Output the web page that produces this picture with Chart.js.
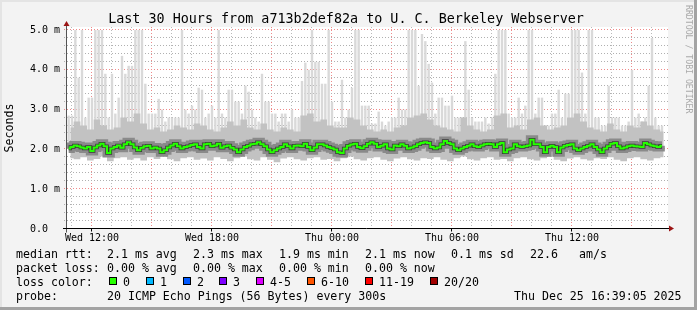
<!DOCTYPE html>
<html>
<head>
<meta charset="utf-8">
<title>SmokePing - Last 30 Hours</title>
<script src="https://cdn.jsdelivr.net/npm/chart.js@4"></script>
<style>
  html, body { margin: 0; padding: 0; background: #f3f3f3; }
  canvas { display: block; }
</style>
</head>
<body>
<canvas id="graph" width="697" height="310"></canvas>
<script>
/* ============================================================
   SMOKEPING GRAPH — last 30 hours, median rtt + smoke
   ============================================================ */

const W = 697, H = 310;
const MONO = '"DejaVu Sans Mono", monospace';

// time axis in hours counted from Wed 00:00
const START_HOUR = 10.75;
const END_HOUR = 40.8;
const STEP_FINE = 1 / 6;    // 10 min bins
const STEP_COARSE = 1 / 3;  // 20 min bins

const tickHours = [12, 18, 24, 30, 36];
const tickLabels = ['Wed 12:00', 'Wed 18:00', 'Thu 00:00', 'Thu 06:00', 'Thu 12:00'];
const yTicks = [0, 1, 2, 3, 4, 5];
const yTickLabels = ['0.0  ', '1.0 m', '2.0 m', '3.0 m', '4.0 m', '5.0 m'];

// median rtt (ms), one value per 10 min
const medianRtt = [
  2.02, 2.06, 2.10, 2.08, 2.05, 2.02, 2.06, 1.96, 2.05, 2.10,
  2.14, 2.08, 1.91, 2.02, 2.06, 2.10, 2.04, 2.13, 2.18, 2.13,
  2.05, 1.98, 2.04, 2.08, 2.09, 2.02, 2.05, 2.02, 1.93, 1.98,
  2.05, 2.10, 2.14, 2.08, 2.02, 2.06, 2.08, 2.11, 2.13, 2.06,
  2.02, 2.13, 2.14, 2.08, 2.10, 2.14, 2.04, 2.08, 2.10, 2.04,
  2.00, 1.93, 2.00, 2.06, 2.09, 2.13, 2.14, 2.18, 2.13, 2.08,
  2.00, 1.93, 1.98, 2.02, 2.06, 2.13, 2.08, 2.02, 2.09, 2.10,
  2.08, 2.14, 2.06, 1.98, 2.05, 2.13, 2.13, 2.10, 2.06, 2.03,
  2.00, 1.93, 1.91, 2.02, 2.09, 2.12, 2.14, 2.06, 2.03, 2.08,
  2.14, 2.18, 2.14, 2.06, 2.09, 2.13, 2.02, 2.00, 2.10, 2.08,
  2.13, 2.09, 2.02, 2.05, 2.08, 2.13, 2.16, 2.18, 2.16, 2.06,
  2.02, 2.05, 2.13, 2.21, 2.16, 2.13, 2.02, 1.98, 2.02, 2.06,
  2.09, 2.13, 2.08, 2.06, 2.10, 2.13, 2.14, 2.13, 2.06, 2.13,
  2.16, 1.93, 2.00, 2.02, 2.13, 2.08, 2.06, 2.08, 2.10, 2.24,
  2.13, 2.13, 2.06, 1.93, 2.06, 2.09, 2.06, 1.93, 2.05, 2.09,
  2.11, 2.13, 2.02, 1.98, 2.02, 2.06, 2.09, 2.13, 2.06, 2.00,
  1.93, 2.02, 2.08, 2.14, 2.16, 2.08, 2.02, 2.05, 2.08, 2.10,
  2.08, 2.07, 2.06, 2.16, 2.13, 2.10, 2.08, 2.06, 2.09
];

// slowest ping per 10 min (light smoke top), values above 5 are clipped
const pingMax = [
  2.85, 2.85, 5.5, 3.8, 5.5, 2.8, 3.3, 3.3, 5.5, 5.5,
  5.5, 3.9, 2.8, 3.9, 2.9, 3.3, 4.35, 3.9, 4.1, 4.1,
  5.5, 5.5, 5.5, 3.65, 2.9, 2.9, 2.9, 3.27, 3.0, 2.7,
  2.8, 2.8, 2.8, 2.8, 5.5, 3.0, 2.9, 3.1, 3.0, 3.55,
  3.5, 2.8, 2.9, 3.1, 2.8, 5.5, 2.9, 2.8, 3.5, 3.5,
  3.2, 3.2, 2.9, 3.6, 3.45, 3.0, 2.8, 2.7, 3.9, 3.2,
  3.2, 2.9, 2.9, 2.7, 2.9, 2.9, 2.7, 3.0, 2.8, 2.8,
  3.72, 4.18, 4.0, 5.5, 4.2, 4.2, 3.65, 3.65, 5.5, 3.2,
  2.7, 2.7, 3.75, 2.8, 3.0, 3.55, 5.5, 5.5, 3.1, 3.1,
  3.1, 2.65, 2.65, 2.95, 2.7, 2.6, 2.7, 2.8, 2.8, 3.3,
  3.0, 3.0, 5.5, 5.5, 5.5, 3.6, 4.9, 4.72, 4.15, 3.68,
  2.9, 3.3, 3.3, 3.1, 3.1, 3.35, 2.8, 2.8, 2.8, 4.72,
  3.5, 2.8, 2.7, 2.7, 2.7, 2.8, 2.65, 2.8, 3.9, 5.5,
  5.5, 5.5, 2.9, 2.8, 2.8, 3.3, 2.9, 3.1, 5.5, 5.5,
  2.9, 3.3, 3.3, 2.6, 2.6, 2.9, 2.9, 3.5, 2.8, 3.4,
  3.4, 5.5, 5.5, 5.5, 3.93, 2.9, 5.5, 5.5, 2.8, 2.8,
  2.6, 2.6, 3.6, 2.8, 2.8, 2.8, 2.6, 2.6, 2.7, 4.0,
  2.8, 2.9, 2.7, 2.8, 3.6, 4.8, 2.8, 2.6, 2.6
];

// upper dense smoke per 20 min
const pingHigh = [
  2.55, 2.70, 2.60, 2.50, 2.75, 2.60, 2.50, 2.55, 2.80, 2.70,
  2.90, 2.65, 2.50, 2.55, 2.45, 2.50, 2.60, 2.55, 2.50, 2.65,
  2.60, 2.50, 2.45, 2.55, 2.70, 2.60, 2.75, 2.55, 2.50, 2.65,
  2.50, 2.45, 2.55, 2.50, 2.45, 2.85, 2.90, 2.70, 2.75, 2.60,
  2.55, 2.55, 2.80, 2.75, 2.60, 2.50, 2.45, 2.50, 2.45, 2.55,
  2.60, 2.80, 2.85, 2.90, 2.75, 2.60, 2.55, 2.50, 2.45, 2.80,
  2.60, 2.50, 2.45, 2.50, 2.85, 2.90, 2.55, 2.60, 2.50, 2.75,
  2.80, 2.60, 2.50, 2.55, 2.60, 2.80, 2.90, 2.70, 2.55, 2.50,
  2.45, 2.65, 2.50, 2.45, 2.60, 2.55, 2.70, 2.60, 2.50, 2.45
];

// fastest ping per 20 min (smoke bottom)
const pingLow = [
  1.78, 1.75, 1.80, 1.72, 1.76, 1.82, 1.70, 1.78, 1.80, 1.74,
  1.78, 1.72, 1.80, 1.76, 1.82, 1.75, 1.70, 1.78, 1.80, 1.74,
  1.77, 1.72, 1.80, 1.76, 1.70, 1.78, 1.82, 1.75, 1.72, 1.80,
  1.74, 1.68, 1.77, 1.80, 1.75, 1.72, 1.78, 1.80, 1.74, 1.76,
  1.70, 1.78, 1.82, 1.75, 1.72, 1.78, 1.80, 1.74, 1.70, 1.77,
  1.80, 1.75, 1.72, 1.78, 1.76, 1.80, 1.74, 1.70, 1.78, 1.82,
  1.75, 1.72, 1.78, 1.80, 1.74, 1.76, 1.70, 1.78, 1.80, 1.75,
  1.72, 1.78, 1.82, 1.74, 1.70, 1.77, 1.80, 1.75, 1.72, 1.78,
  1.76, 1.80, 1.74, 1.70, 1.78, 1.80, 1.75, 1.72, 1.78, 1.80
];

const lossLevels = ['0', '1', '2', '3', '4-5', '6-10', '11-19', '20/20'];
const lossColors = ['#26ff00', '#00b8ff', '#0059ff', '#7e00ff', '#dd00ff', '#ff5500', '#ff0000', '#a10000'];
const lossX = [109, 146, 183, 219, 256, 307, 365, 430];

const TITLE = 'Last 30 Hours from a713b2def82a to U. C. Berkeley Webserver';

function toPoints(values, step) {
  return values.map((v, i) => ({ x: START_HOUR + (i + 0.5) * step, y: v }));
}

const clear = 'rgba(0,0,0,0)';

// grid lines: dotted 1px strokes
function gridLine(ctx, x0, y0, x1, y1, color) {
  ctx.strokeStyle = color;
  ctx.beginPath();
  ctx.moveTo(x0, y0);
  ctx.lineTo(x1, y1);
  ctx.stroke();
}

// background, white canvas, dotted grid
const backdrop = {
  id: 'backdrop',
  beforeDraw(chart) {
    const { ctx } = chart;
    const xs = chart.scales.x, ys = chart.scales.y;
    ctx.save();
    ctx.fillStyle = '#f3f3f3';
    ctx.fillRect(0, 0, W, H);
    ctx.fillStyle = '#e4e4e4';
    ctx.fillRect(0, 0, W, 2);
    ctx.fillRect(0, 0, 2, H);
    ctx.fillStyle = '#a3a3a3';
    ctx.fillRect(W - 3, 0, 3, H);
    ctx.fillRect(0, H - 3, W, 3);

    ctx.fillStyle = '#ffffff';
    ctx.fillRect(xs.left, ys.top - 3, xs.right - xs.left, ys.bottom - ys.top + 3);

    ctx.lineWidth = 1;
    ctx.setLineDash([1, 2]);
    const top = Math.round(ys.top) - 3, bottom = Math.round(ys.bottom) + 2;
    for (let h = Math.ceil(START_HOUR); h <= Math.floor(END_HOUR); h++) {
      const px = Math.round(xs.getPixelForValue(h)) - 0.5;
      gridLine(ctx, px, top, px, bottom, h % 3 === 0 ? '#ef8a8a' : '#bababa');
    }
    for (let k = 1; k <= 25; k++) {
      const py = Math.round(ys.getPixelForValue(k * 0.2)) - 0.5;
      gridLine(ctx, Math.round(xs.left) - 3, py, Math.round(xs.right), py, k % 5 === 0 ? '#ef8a8a' : '#b0b0b0');
    }
    ctx.restore();
  }
};

// axes with rrdtool arrows
const axes = {
  id: 'axes',
  afterDatasetsDraw(chart) {
    const { ctx } = chart;
    const xs = chart.scales.x, ys = chart.scales.y;
    const ax = Math.round(xs.left) - 0.5;
    const ay = Math.round(ys.bottom) - 0.5;
    ctx.save();
    ctx.lineWidth = 1;
    ctx.strokeStyle = '#555';
    ctx.beginPath();
    ctx.moveTo(ax, ay + 4);
    ctx.lineTo(ax, ys.top - 5);
    ctx.stroke();
    ctx.strokeStyle = '#000';
    ctx.beginPath();
    ctx.moveTo(xs.left - 4, ay);
    ctx.lineTo(xs.right + 2, ay);
    ctx.stroke();
    tickHours.forEach(h => {
      const px = Math.round(xs.getPixelForValue(h)) - 0.5;
      ctx.beginPath();
      ctx.moveTo(px, ay);
      ctx.lineTo(px, ay + 3);
      ctx.stroke();
    });

    ctx.fillStyle = '#9b1414';
    ctx.beginPath();
    ctx.moveTo(ax - 3, ys.top - 4);
    ctx.lineTo(ax + 3, ys.top - 4);
    ctx.lineTo(ax, ys.top - 9);
    ctx.closePath();
    ctx.fill();
    ctx.beginPath();
    ctx.moveTo(xs.right + 1, ay - 3);
    ctx.lineTo(xs.right + 1, ay + 3);
    ctx.lineTo(xs.right + 6, ay);
    ctx.closePath();
    ctx.fill();
    ctx.restore();
  }
};

// title, axis name, legend block, watermark
const texts = {
  id: 'texts',
  afterDraw(chart) {
    const { ctx } = chart;
    ctx.save();
    ctx.fillStyle = '#000';
    ctx.textBaseline = 'alphabetic';

    ctx.font = '13.4px ' + MONO;
    ctx.textAlign = 'center';
    ctx.fillText(TITLE, 346, 23);

    ctx.font = '11.6px ' + MONO;
    ctx.save();
    ctx.translate(10, 128);
    ctx.rotate(-Math.PI / 2);
    ctx.textBaseline = 'middle';
    ctx.fillText('Seconds', 0, 0);
    ctx.restore();

    ctx.textAlign = 'left';
    const rows = [
      [258, [['median rtt:', 16], ['2.1 ms avg', 107], ['2.3 ms max', 193], ['1.9 ms min', 279],
             ['2.1 ms now', 365], ['0.1 ms sd', 451], ['22.6', 530], ['am/s', 579]]],
      [272, [['packet loss:', 16], ['0.00 % avg', 107], ['0.00 % max', 193], ['0.00 % min', 279],
             ['0.00 % now', 365]]],
      [286, [['loss color:', 16]]],
      [300, [['probe:', 16], ['20 ICMP Echo Pings (56 Bytes) every 300s', 107],
             ['Thu Dec 25 16:39:05 2025', 514]]]
    ];
    rows.forEach(([y, items]) => items.forEach(([t, x]) => ctx.fillText(t, x, y)));

    lossLevels.forEach((lvl, i) => {
      const x = lossX[i];
      ctx.fillStyle = lossColors[i];
      ctx.fillRect(x, 277, 8, 8);
      ctx.strokeStyle = '#000';
      ctx.lineWidth = 1;
      ctx.strokeRect(x + 0.5, 277.5, 7, 7);
      ctx.fillStyle = '#000';
      ctx.fillText(lvl, x + 14, 286);
    });

    ctx.fillStyle = '#a9a9a9';
    ctx.font = '8.2px ' + MONO;
    ctx.translate(688, 5);
    ctx.rotate(Math.PI / 2);
    ctx.textBaseline = 'middle';
    ctx.fillText('RRDTOOL / TOBI OETIKER', 0, 0);
    ctx.restore();
  }
};

Chart.defaults.font.family = MONO;

new Chart(document.getElementById('graph'), {
  type: 'line',
  data: {
    datasets: [
      { label: 'low', data: toPoints(pingLow, STEP_COARSE), stepped: 'middle', borderColor: clear, borderWidth: 0, fill: false, order: 5 },
      {
        type: 'bar', label: 'max',
        data: pingMax.map((v, i) => ({ x: START_HOUR + (i + 0.5) * STEP_FINE, y: [medianRtt[i], v] })),
        backgroundColor: '#d9d9d9', borderWidth: 0, barPercentage: 0.72, categoryPercentage: 1, order: 4
      },
      { label: 'high', data: toPoints(pingHigh, STEP_COARSE), stepped: 'middle', borderColor: clear, borderWidth: 0, backgroundColor: '#c2c2c2', fill: { target: 0 }, order: 3 },
      { label: 'smoke', data: toPoints(medianRtt, STEP_FINE), stepped: 'middle', borderColor: '#8a8a8a', borderWidth: 9, fill: false, order: 2 },
      { label: 'core', data: toPoints(medianRtt, STEP_FINE), stepped: 'middle', borderColor: '#3a3a3a', borderWidth: 3.5, fill: false, order: 1 },
      { label: 'median rtt', data: toPoints(medianRtt, STEP_FINE), stepped: 'middle', borderColor: '#26ff00', borderWidth: 2, fill: false, order: 0 }
    ]
  },
  options: {
    responsive: false,
    devicePixelRatio: 1,
    animation: false,
    events: [],
    elements: { point: { radius: 0 } },
    layout: { padding: { left: 0, top: 30, right: 29, bottom: 61 } },
    plugins: { legend: { display: false }, tooltip: { enabled: false } },
    scales: {
      x: {
        type: 'linear', min: START_HOUR, max: END_HOUR, offset: false,
        afterBuildTicks: s => { s.ticks = tickHours.map(v => ({ value: v })); },
        afterFit: s => { s.height = 20; },
        grid: { display: false, drawTicks: false, offset: false },
        border: { display: false },
        ticks: {
          autoSkip: false, maxRotation: 0, padding: 3, color: '#000', font: { size: 10 },
          callback: v => tickLabels[tickHours.indexOf(v)] ?? ''
        }
      },
      y: {
        min: 0, max: 5,
        afterBuildTicks: s => { s.ticks = yTicks.map(v => ({ value: v })); },
        afterFit: s => { s.width = 67; },
        grid: { display: false, drawTicks: false },
        border: { display: false },
        ticks: {
          padding: 7, color: '#000', font: { size: 10 },
          callback: v => yTickLabels[yTicks.indexOf(v)] ?? ''
        }
      }
    }
  },
  plugins: [backdrop, axes, texts]
});
</script>
</body>
</html>
